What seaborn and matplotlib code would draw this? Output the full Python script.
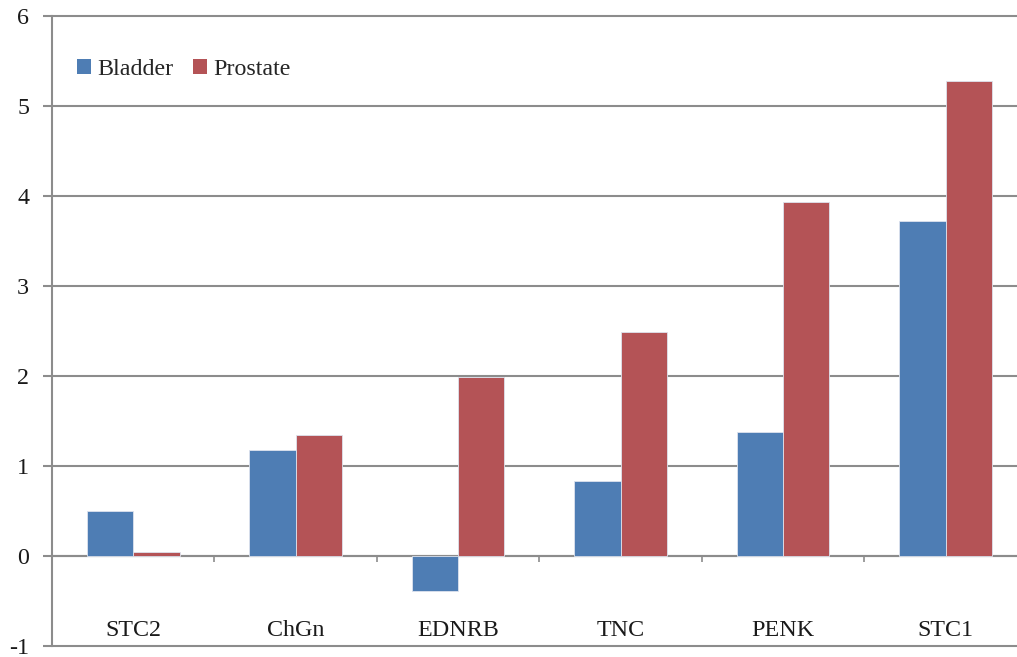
import matplotlib
matplotlib.use("Agg")
import matplotlib.pyplot as plt
import seaborn as sns
import pandas as pd
from matplotlib.ticker import FixedLocator

genes = ["STC2", "ChGn", "EDNRB", "TNC", "PENK", "STC1"]
bladder = [0.50, 1.18, -0.39, 0.83, 1.38, 3.72]
prostate = [0.05, 1.34, 1.99, 2.49, 3.93, 5.28]
series = ["Bladder", "Prostate"]
colors = ["#4E7DB4", "#B45356"]
yticks = [-1, 0, 1, 2, 3, 4, 5, 6]

df = pd.DataFrame({
    "gene": genes * 2,
    "value": bladder + prostate,
    "series": [series[0]] * len(genes) + [series[1]] * len(genes),
})

sns.set_style("white")
plt.rcParams["font.family"] = ["Liberation Serif", "DejaVu Serif"]

fig = plt.figure(figsize=(10.17, 6.57), dpi=100)
ax = fig.add_axes([52 / 1017, 11 / 657, (1017 - 52) / 1017, 630 / 657])

sns.barplot(data=df, x="gene", y="value", hue="series", order=genes,
            hue_order=series, palette=colors, saturation=1, width=0.57, gap=0,
            edgecolor="#dde3ee", linewidth=0.6, ax=ax, zorder=3)

grey = "#8c8c8c"
ax.set_ylim(-1, 6)
ax.set_xlim(-0.5, 5.44)
ax.set_yticks(yticks)
ax.set_yticklabels([str(v) for v in yticks])
ax.yaxis.grid(True, color=grey, linewidth=1.5, zorder=0)
for gl in ax.get_ygridlines():
    gl.set_clip_on(False)
ax.set_axisbelow(True)

for s in ["top", "right"]:
    ax.spines[s].set_visible(False)
ax.spines["left"].set_color(grey)
ax.spines["left"].set_linewidth(1.5)
ax.spines["bottom"].set_position(("data", 0))
ax.spines["bottom"].set_color(grey)
ax.spines["bottom"].set_linewidth(1.5)

fs = 17.3
ax.tick_params(axis="y", which="major", length=6.5, width=1.5, color=grey,
               direction="out", pad=10, labelsize=fs, labelcolor="#1a1a1a", left=True)
ax.tick_params(axis="x", which="major", length=0, pad=46, labelsize=fs,
               labelcolor="#1a1a1a")
ax.xaxis.set_minor_locator(FixedLocator([i + 0.5 for i in range(len(genes) - 1)]))
ax.tick_params(axis="x", which="minor", length=4.5, width=1.2, color=grey,
               direction="out", bottom=True)

ax.set_xlabel("")
ax.set_ylabel("")

leg = ax.legend(loc="upper left", bbox_to_anchor=(0.0155, 0.947), frameon=False,
                fontsize=fs, handlelength=0.58, handleheight=0.58,
                handletextpad=0.28, columnspacing=0.82, ncol=2, borderaxespad=0)
for h in leg.legend_handles:
    h.set_edgecolor("none")

fig.savefig("out.png", dpi=100)
